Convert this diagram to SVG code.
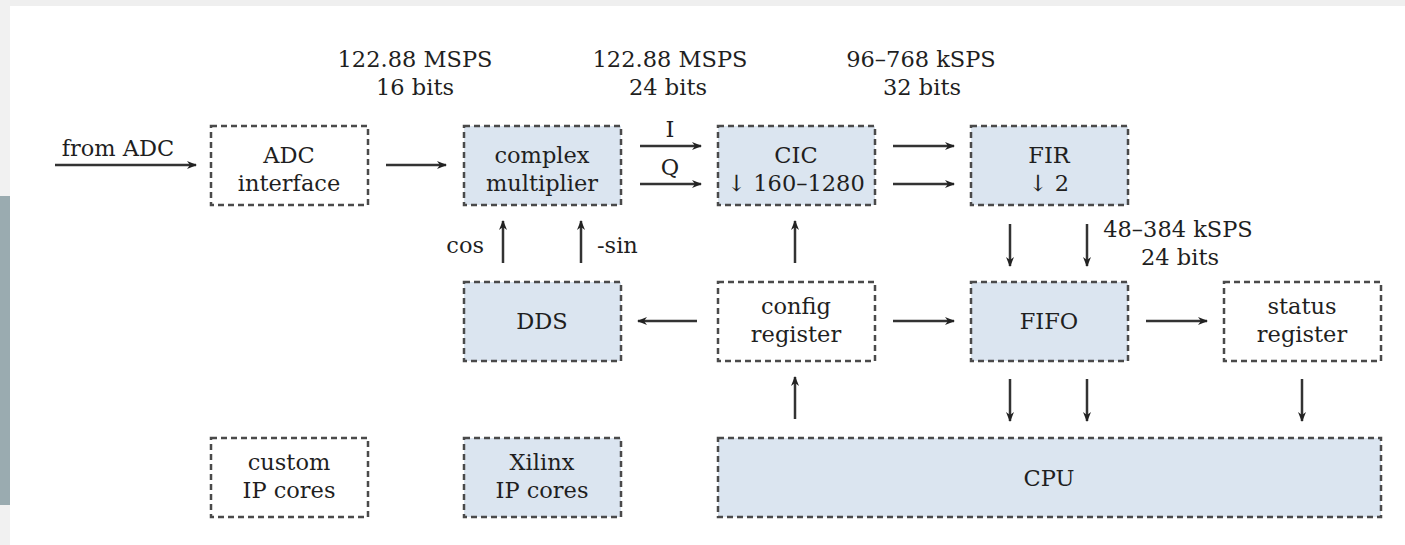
<svg xmlns="http://www.w3.org/2000/svg" width="1405" height="545" viewBox="0 0 1405 545">
<style>
.box{stroke:#4a4a4a;stroke-width:2.5;stroke-dasharray:6 4;fill:#fff}
.fill{fill:#dbe5f0}
text{font-family:"DejaVu Serif","Liberation Serif",serif;font-size:22.5px;fill:#1f1f1f;text-anchor:middle}
.c{stroke:#333;stroke-width:2.5;fill:none;marker-end:url(#ah)}
</style>
<defs>
<marker id="ah" viewBox="0 0 10 10" refX="9" refY="5" markerWidth="5" markerHeight="4" orient="auto" markerUnits="strokeWidth">
<path d="M0,1 L10,5 L0,9 L3,5 z" fill="#222"/>
</marker>
</defs>
<rect width="1405" height="545" fill="#fff"/>
<rect x="0" y="0" width="1405" height="6" fill="#efefef"/>
<rect x="0" y="0" width="10" height="545" fill="#f1f1f1"/>
<rect x="0" y="196" width="10" height="309" fill="#9aabb0"/>

<g id="labels">
<text x="415" y="67">122.88 MSPS</text>
<text x="415" y="95">16 bits</text>
<text x="670" y="67">122.88 MSPS</text>
<text x="668" y="95">24 bits</text>
<text x="921" y="67">96–768 kSPS</text>
<text x="922" y="95">32 bits</text>
<text x="118" y="156">from ADC</text>
<text x="670" y="137">I</text>
<text x="670" y="175">Q</text>
<text x="484" y="253" style="text-anchor:end">cos</text>
<text x="597" y="253" style="text-anchor:start">-sin</text>
<text x="1178" y="237">48–384 kSPS</text>
<text x="1180" y="265">24 bits</text>
</g>

<g id="connectors">
<line class="c" x1="55" y1="165" x2="196" y2="165"/>
<line class="c" x1="386" y1="165" x2="446" y2="165"/>
<line class="c" x1="640" y1="146" x2="701" y2="146"/>
<line class="c" x1="640" y1="184" x2="701" y2="184"/>
<line class="c" x1="893" y1="146" x2="954" y2="146"/>
<line class="c" x1="893" y1="184" x2="954" y2="184"/>
<line class="c" x1="1010" y1="224" x2="1010" y2="266"/>
<line class="c" x1="1087" y1="224" x2="1087" y2="266"/>
<line class="c" x1="503" y1="263" x2="503" y2="221"/>
<line class="c" x1="581" y1="263" x2="581" y2="221"/>
<line class="c" x1="795" y1="263" x2="795" y2="221"/>
<line class="c" x1="697" y1="321" x2="638" y2="321"/>
<line class="c" x1="893" y1="321" x2="954" y2="321"/>
<line class="c" x1="1146" y1="321" x2="1207" y2="321"/>
<line class="c" x1="795" y1="419" x2="795" y2="377"/>
<line class="c" x1="1010" y1="379" x2="1010" y2="421"/>
<line class="c" x1="1087" y1="379" x2="1087" y2="421"/>
<line class="c" x1="1302" y1="379" x2="1302" y2="421"/>
</g>

<g id="adc-interface">
<rect class="box" x="211" y="126" width="157" height="79"/>
<text x="289" y="163">ADC</text>
<text x="289" y="191">interface</text>
</g>
<g id="complex-multiplier">
<rect class="box fill" x="464" y="126" width="157" height="79"/>
<text x="542" y="163">complex</text>
<text x="542" y="191">multiplier</text>
</g>
<g id="cic">
<rect class="box fill" x="718" y="126" width="157" height="79"/>
<text x="796" y="163">CIC</text>
<text x="796" y="191">↓ 160–1280</text>
</g>
<g id="fir">
<rect class="box fill" x="971" y="126" width="157" height="79"/>
<text x="1049" y="163">FIR</text>
<text x="1049" y="191">↓ 2</text>
</g>
<g id="dds">
<rect class="box fill" x="464" y="282" width="157" height="79"/>
<text x="542" y="329">DDS</text>
</g>
<g id="config-register">
<rect class="box" x="718" y="282" width="157" height="79"/>
<text x="796" y="314">config</text>
<text x="796" y="342">register</text>
</g>
<g id="fifo">
<rect class="box fill" x="971" y="282" width="157" height="79"/>
<text x="1049" y="329">FIFO</text>
</g>
<g id="status-register">
<rect class="box" x="1224" y="282" width="157" height="79"/>
<text x="1302" y="314">status</text>
<text x="1302" y="342">register</text>
</g>
<g id="custom-ip-cores">
<rect class="box" x="211" y="438" width="157" height="79"/>
<text x="289" y="470">custom</text>
<text x="289" y="498">IP cores</text>
</g>
<g id="xilinx-ip-cores">
<rect class="box fill" x="464" y="438" width="157" height="79"/>
<text x="542" y="470">Xilinx</text>
<text x="542" y="498">IP cores</text>
</g>
<g id="cpu">
<rect class="box fill" x="718" y="438" width="663" height="79"/>
<text x="1049" y="486">CPU</text>
</g>
</svg>
